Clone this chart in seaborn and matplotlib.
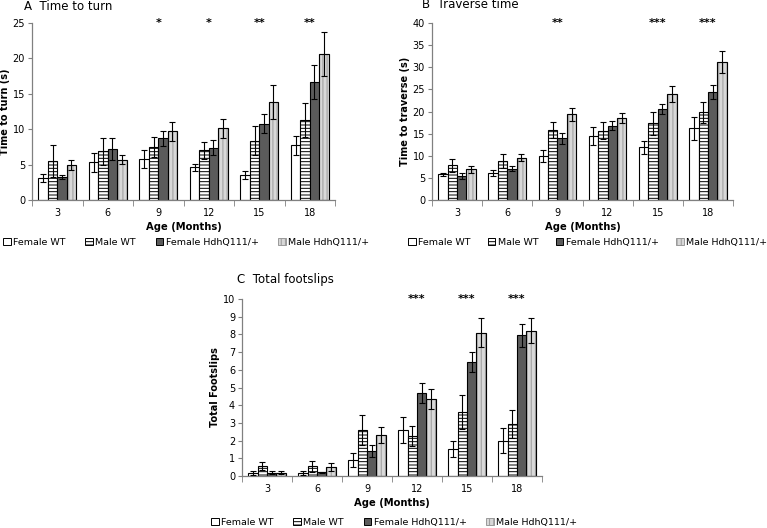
import pandas as pd
import seaborn as sns
import matplotlib.pyplot as plt
from matplotlib.patches import Patch, Rectangle

ages = ["3", "6", "9", "12", "15", "18"]
groups = ["Female WT", "Male WT", "Female HdhQ111/+", "Male HdhQ111/+"]

# A: time to turn (s)
turn_mean = [
    [3.1, 5.3, 5.8, 4.6, 3.5, 7.7],
    [5.5, 6.9, 7.5, 7.0, 8.4, 11.3],
    [3.2, 7.2, 8.7, 7.4, 10.8, 16.6],
    [5.0, 5.7, 9.7, 10.1, 13.8, 20.6],
]
turn_err = [
    [0.6, 1.4, 1.3, 0.5, 0.6, 1.3],
    [2.3, 1.9, 1.4, 1.2, 2.1, 2.4],
    [0.3, 1.6, 1.1, 1.1, 1.4, 2.4],
    [0.7, 0.6, 1.3, 1.4, 2.4, 3.1],
]
turn_stars = ["", "", "*", "*", "**", "**"]

# B: traverse time (s)
trav_mean = [
    [5.8, 6.1, 10.0, 14.5, 11.9, 16.2],
    [7.8, 8.8, 15.8, 15.7, 17.3, 19.8],
    [5.4, 7.1, 13.9, 16.8, 20.5, 24.4],
    [6.9, 9.6, 19.4, 18.5, 23.9, 31.1],
]
trav_err = [
    [0.3, 0.6, 1.4, 2.0, 1.5, 2.6],
    [1.5, 1.6, 1.8, 2.0, 2.5, 2.3],
    [0.6, 0.6, 1.2, 1.0, 1.1, 1.5],
    [0.8, 0.8, 1.5, 1.2, 1.8, 2.5],
]
trav_stars = ["", "", "**", "", "***", "***"]

# C: total footslips
slip_mean = [
    [0.18, 0.18, 0.9, 2.6, 1.55, 2.0],
    [0.55, 0.55, 2.6, 2.25, 3.6, 2.95],
    [0.18, 0.2, 1.4, 4.7, 6.45, 7.95],
    [0.18, 0.5, 2.3, 4.35, 8.1, 8.2],
]
slip_err = [
    [0.1, 0.1, 0.38, 0.75, 0.45, 0.7],
    [0.22, 0.3, 0.85, 0.55, 0.95, 0.8],
    [0.08, 0.05, 0.35, 0.55, 0.55, 0.65],
    [0.08, 0.22, 0.45, 0.55, 0.8, 0.7],
]
slip_stars = ["", "", "", "***", "***", "***"]

faces = ["white", "white", "#5b5b5b", "#d8d8d8"]
hatches = ["", "-----", "", "||||"]
# hatch follows the edge colour, so the light bars get a grey edge + black outline on top
hatch_cols = ["black", "black", "black", "#9a9a9a"]

plt.rcParams["font.family"] = "DejaVu Sans"
plt.rcParams["hatch.linewidth"] = 0.7
W, H = 767, 528
fig = plt.figure(figsize=(W / 100, H / 100), dpi=100)


def panel(rect, means, errs, stars, ymax, ystep, ylabel):
    ax = fig.add_axes(rect)
    df = pd.DataFrame(
        [(a, g, means[i][j]) for i, g in enumerate(groups) for j, a in enumerate(ages)],
        columns=["age", "group", "value"],
    )
    sns.barplot(data=df, x="age", y="value", hue="group", order=ages,
                hue_order=groups, errorbar=None, width=0.75, legend=False, ax=ax)
    bar_conts = list(ax.containers)
    for i, cont in enumerate(bar_conts):
        for bar, e in zip(cont, errs[i]):
            bar.set_facecolor(faces[i])
            bar.set_edgecolor(hatch_cols[i])
            bar.set_linewidth(0.8)
            if hatches[i]:
                bar.set_hatch(hatches[i])
            if hatch_cols[i] != "black":
                ax.add_patch(Rectangle((bar.get_x(), bar.get_y()), bar.get_width(),
                                       bar.get_height(), fill=False, edgecolor="black",
                                       linewidth=0.8, zorder=bar.get_zorder() + 0.1))
            ax.errorbar(bar.get_x() + bar.get_width() / 2, bar.get_height(), yerr=e,
                        fmt="none", ecolor="black", elinewidth=0.8, capsize=2.5,
                        capthick=0.8, zorder=5)
    for j, s in enumerate(stars):
        if s:
            ax.text(j, ymax, s, ha="center", va="center", fontsize=8, fontweight="bold")
    ax.set_xlim(-0.5, len(ages) - 0.5)
    ax.set_ylim(0, ymax)
    ax.set_yticks(range(0, ymax + 1, ystep))
    ax.set_xticks([x - 0.5 for x in range(len(ages) + 1)], minor=True)
    ax.tick_params(axis="x", which="major", length=0, labelsize=7, pad=6)
    ax.tick_params(axis="x", which="minor", length=4, color="#808080")
    ax.tick_params(axis="y", length=3, labelsize=7, color="#808080", pad=2)
    for sp in ["top", "right"]:
        ax.spines[sp].set_visible(False)
    for sp in ["left", "bottom"]:
        ax.spines[sp].set_color("#808080")
        ax.spines[sp].set_linewidth(0.9)
    ax.set_xlabel("Age (Months)", fontsize=7.2, fontweight="bold", labelpad=3)
    ax.set_ylabel(ylabel, fontsize=7, fontweight="bold", labelpad=2)
    return ax


def legend(x, y, spacing):
    handles = []
    for i in range(len(groups)):
        handles.append(Patch(facecolor=faces[i], edgecolor=hatch_cols[i],
                             linewidth=0.7, hatch=hatches[i]))
    fig.legend(handles, groups, loc="upper left", bbox_to_anchor=(x, y),
               ncol=4, frameon=False, fontsize=6.8, handlelength=0.8,
               handleheight=0.8, handletextpad=0.25, columnspacing=spacing,
               borderaxespad=0, borderpad=0)


axA = panel([32 / W, 1 - 200 / H, 303 / W, 177 / H], turn_mean, turn_err, turn_stars,
            25, 5, "Time to turn (s)")
axB = panel([432 / W, 1 - 200 / H, 301 / W, 177 / H], trav_mean, trav_err, trav_stars,
            40, 5, "Time to traverse (s)")
axC = panel([242 / W, 1 - 476 / H, 300 / W, 177 / H], slip_mean, slip_err, slip_stars,
            10, 1, "Total Footslips")

fig.text(24 / W, 1 - 6 / H, "A  Time to turn", fontsize=8.5, va="center")
fig.text(422 / W, 1 - 5 / H, "B  Traverse time", fontsize=8.5, va="center")
fig.text(237 / W, 1 - 280 / H, "C  Total footslips", fontsize=8.5, va="center")

legend(3 / W, 1 - 238 / H, 2.1)
legend(408 / W, 1 - 238 / H, 1.85)
legend(211 / W, 1 - 518 / H, 2.1)

fig.savefig("out.png", dpi=100)
